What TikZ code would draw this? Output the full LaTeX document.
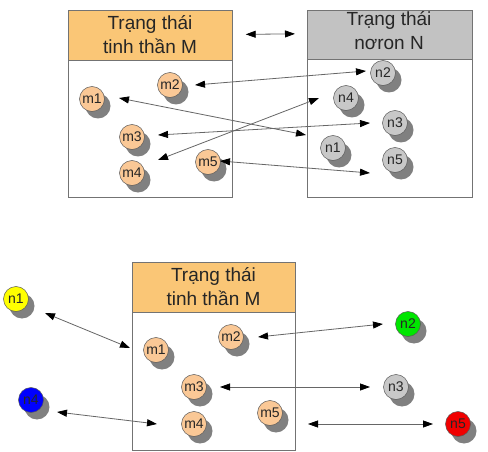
\documentclass[tikz,border=0pt]{standalone}
\usepackage{fontspec}
\setmainfont{Liberation Sans}
\usetikzlibrary{arrows.meta,shadows,calc}
\definecolor{hdrOrange}{RGB}{250,198,118}
\definecolor{hdrGray}{RGB}{194,194,194}
\definecolor{ballPeach}{RGB}{250,200,150}
\definecolor{ballGray}{RGB}{200,200,200}
\definecolor{ballYellow}{RGB}{255,255,0}
\definecolor{ballGreen}{RGB}{0,230,0}
\definecolor{ballBlue}{RGB}{0,0,255}
\definecolor{ballRed}{RGB}{240,0,0}
\begin{document}
\begin{tikzpicture}[x=1pt,y=-1pt,
  frame/.style={draw=black!55, line width=0.7pt, fill=white, anchor=north west, inner sep=0pt},
  hdr/.style={draw=black!55, line width=0.7pt, anchor=north west, inner sep=0pt},
  hdrtext/.style={font=\fontsize{19}{24}\selectfont, align=center, text=black!85, inner sep=0pt},
  ball/.style={circle, minimum size=25pt, inner sep=0pt, draw=black!65, line width=0.5pt,
    font=\fontsize{14}{14}\selectfont, text=black!85,
    general shadow={shadow xshift=6pt, shadow yshift=-7pt, fill=black!50}},
  mball/.style={ball, fill=ballPeach},
  nball/.style={ball, fill=ballGray},
  link/.style={draw=black!60, line width=0.8pt,
    {Triangle[length=10pt,width=7pt,color=black,fill=black]}-{Triangle[length=10pt,width=7pt,color=black,fill=black]}}
]
\useasboundingbox (0,0) rectangle (488,452);

% ---------- top part ----------
\node[frame, minimum width=164pt, minimum height=187pt] (boxM) at (68,10) {};
\node[hdr, fill=hdrOrange, minimum width=164pt, minimum height=50pt] (hM) at (68,10) {};
\node[hdrtext] (tM) at (150,35) {Trạng thái\\tinh thần M};

\node[frame, minimum width=165pt, minimum height=187pt] (boxN) at (307,10) {};
\node[hdr, fill=hdrGray, minimum width=165pt, minimum height=49pt] (hN) at (307,10) {};
\node[hdrtext] (tN) at (389,31) {Trạng thái\\nơron N};

\draw[link] ($(hM.east)+(13,-1)$) -- ($(hN.west)+(-12,-1)$);

\node[mball] (m1) at (92,99) {m1};
\node[mball] (m2) at (170,85) {m2};
\node[mball] (m3) at (132,137) {m3};
\node[mball] (m4) at (132,173) {m4};
\node[mball] (m5) at (208,162) {m5};

\node[nball] (n2) at (383,73) {n2};
\node[nball] (n4) at (346,98) {n4};
\node[nball] (n3) at (395,123) {n3};
\node[nball] (n1) at (333,148) {n1};
\node[nball] (n5) at (395,160) {n5};

\draw[link] ($(m2)+(25,0)$) -- ($(n2)+(-17,-2)$);
\draw[link] ($(m1)+(27,-1)$) -- ($(n1)+(-27,-13)$);
\draw[link] ($(m3)+(26,-2)$) -- ($(n3)+(-25,0)$);
\draw[link] ($(m4)+(26,-13)$) -- ($(n4)+(-27,0)$);
\draw[link] ($(m5)+(12,-1)$) -- ($(n5)+(-25,13)$);

% ---------- bottom part ----------
\node[frame, minimum width=163pt, minimum height=188pt] (boxB) at (132,262) {};
\node[hdr, fill=hdrOrange, minimum width=163pt, minimum height=50pt] (hB) at (132,262) {};
\node[hdrtext] (tB) at (213.5,287) {Trạng thái\\tinh thần M};

\node[mball] (bm1) at (156,350) {m1};
\node[mball] (bm2) at (231,337) {m2};
\node[mball] (bm3) at (194,387) {m3};
\node[mball] (bm4) at (194,424) {m4};
\node[mball] (bm5) at (270,413) {m5};

\node[ball, fill=ballYellow] (bn1) at (16,299) {n1};
\node[ball, fill=ballBlue] (bn4) at (31,400) {n4};
\node[ball, fill=ballGreen] (bn2) at (408,324) {n2};
\node[nball] (bn3) at (396,387) {n3};
\node[ball, fill=ballRed] (bn5) at (458,424) {n5};

\draw[link] ($(bn1)+(29,14)$) -- ($(bm1)+(-26,-2)$);
\draw[link] ($(bn4)+(26,12)$) -- ($(bm4)+(-37,0)$);
\draw[link] ($(bm2)+(27,0)$) -- ($(bn2)+(-25,0)$);
\draw[link] ($(bm3)+(26,0)$) -- ($(bn3)+(-26,0)$);
\draw[link] ($(bm5)+(38,11)$) -- ($(bn5)+(-25,0)$);
\end{tikzpicture}
\end{document}
